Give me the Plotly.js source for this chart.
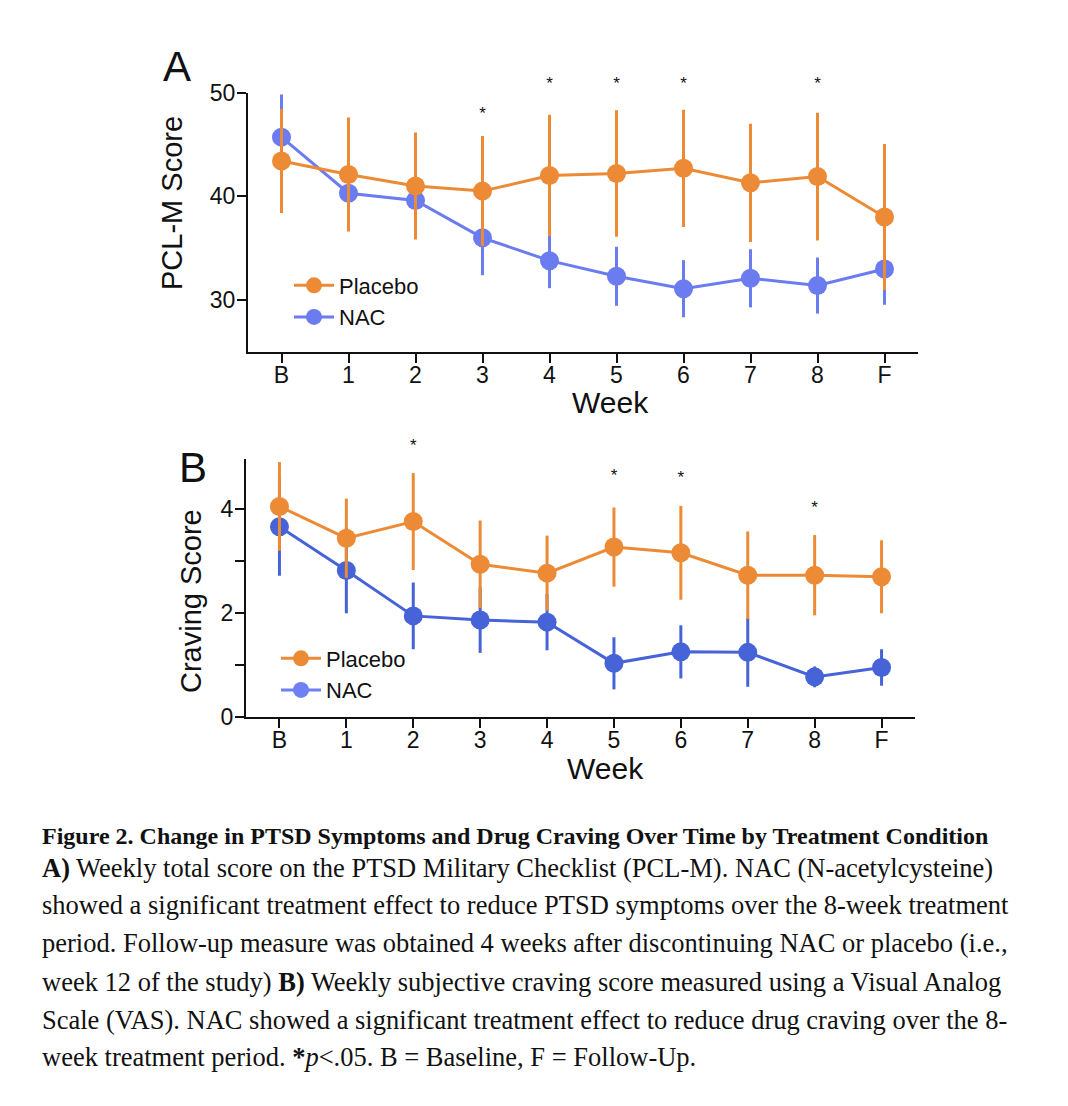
<!DOCTYPE html>
<html>
<head>
<meta charset="utf-8">
<script src="https://cdn.plot.ly/plotly-3.0.1.min.js"></script>
<style>html,body{margin:0;padding:0;background:#fff;}#chart{width:1068px;height:1106px;}</style>
</head>
<body>
<div id="chart"></div>
<script>
// ---- data ----
const weeks = ['B','1','2','3','4','5','6','7','8','F'];

const pclPlacebo    = [43.4, 42.1, 41.0, 40.5, 42.0, 42.2, 42.7, 41.3, 41.9, 38.0];
const pclPlaceboErr = [5.0, 5.5, 5.15, 5.3, 5.85, 6.1, 5.65, 5.7, 6.15, 7.05];
const pclNAC        = [45.7, 40.3, 39.6, 36.0, 33.8, 32.3, 31.1, 32.1, 31.4, 33.0];
const pclNACErr     = [4.1, 3.5, 3.5, 3.6, 2.65, 2.85, 2.75, 2.8, 2.7, 3.45];

const cravPlacebo    = [4.04, 3.43, 3.75, 2.93, 2.76, 3.26, 3.15, 2.72, 2.72, 2.69];
const cravPlaceboErr = [0.85, 0.76, 0.93, 0.84, 0.72, 0.76, 0.90, 0.84, 0.77, 0.70];
const cravNAC        = [3.65, 2.81, 1.94, 1.86, 1.82, 1.03, 1.25, 1.24, 0.77, 0.95];
const cravNACErr     = [0.94, 0.82, 0.64, 0.63, 0.54, 0.50, 0.51, 0.66, 0.20, 0.35];

// significance markers (*p<.05)
const sigWeeksA = ['3','4','5','6','8'];
const sigYA     = [47.85, 50.7, 50.7, 50.7, 50.7];
const sigWeeksB = ['2','5','6','8'];
const sigYB     = [5.19, 4.6, 4.58, 3.99];

const yRangeA = [25, 50];
const yRangeB = [0, 4.95];
const yTicksA = [30, 40, 50];
const yTicksB = [0, 1, 2, 3, 4];
const yTickTextB = ['0', '', '2', '', '4'];

const captionTitle = '<b>Figure 2. Change in PTSD Symptoms and Drug Craving Over Time by Treatment Condition</b>';
const captionLines = [
  '<b>A)</b> Weekly total score on the PTSD Military Checklist (PCL-M). NAC (N-acetylcysteine)',
  'showed a significant treatment effect to reduce PTSD symptoms over the 8-week treatment',
  'period. Follow-up measure was obtained 4 weeks after discontinuing NAC or placebo (i.e.,',
  'week 12 of the study) <b>B)</b> Weekly subjective craving score measured using a Visual Analog',
  'Scale (VAS). NAC showed a significant treatment effect to reduce drug craving over the 8-',
  'week treatment period. <b>*</b><i>p</i>&lt;.05. B = Baseline, F = Follow-Up.'
];

// ---- style ----
const W = 1068, H = 1106;
const px = x => x / W;
const py = y => 1 - y / H;
const ORANGE = '#EC8A35';
const BLUE_A = '#6B7BF0';
const BLUE_B = '#4663D8';
const BLUE_LEG = '#6E80F4';
const FONT = 'Liberation Sans, Arial, Helvetica, sans-serif';
const SERIF = 'Liberation Serif, Times New Roman, serif';

// plot areas (pixels)
const areaA = {x0: 248, x1: 918, top: 92.5, bottom: 352};
const areaB = {x0: 246, x1: 915, top: 459, bottom: 717};
// taller invisible axes sharing the same scale, so the significance stars can sit above the plot
const starTopA = 60, starTopB = 430;
function extendedRange(area, range, top) {
  const ppu = (area.bottom - area.top) / (range[1] - range[0]);
  return [range[0], range[0] + (area.bottom - top) / ppu];
}

function series(x, y, err, color, name, xa, ya, opts) {
  return Object.assign({
    type: 'scatter', mode: 'lines+markers', x: x, y: y, name: name,
    xaxis: xa, yaxis: ya,
    line: {color: color, width: 3},
    marker: {color: color, size: 19},
    error_y: {type: 'data', array: err, visible: true, color: color, thickness: 3, width: 0},
    cliponaxis: false
  }, opts || {});
}
function stars(x, y, xa, ya) {
  return {type: 'scatter', mode: 'text', x: x, y: y, xaxis: xa, yaxis: ya,
    text: x.map(() => '*'), textposition: 'middle center', showlegend: false, cliponaxis: false,
    textfont: {family: FONT, size: 17, color: '#111'}, hoverinfo: 'skip'};
}

const traces = [
  series(weeks, pclNAC, pclNACErr, BLUE_A, 'NAC', 'x', 'y', {legend: 'legend'}),
  series(weeks, pclPlacebo, pclPlaceboErr, ORANGE, 'Placebo', 'x', 'y', {legend: 'legend'}),
  series(weeks, cravNAC, cravNACErr, BLUE_B, 'NAC', 'x2', 'y2', {showlegend: false}),
  series(weeks, cravPlacebo, cravPlaceboErr, ORANGE, 'Placebo', 'x2', 'y2', {legend: 'legend2'}),
  {type: 'scatter', mode: 'lines+markers', x: [null], y: [null], name: 'NAC', xaxis: 'x2', yaxis: 'y2',
   line: {color: BLUE_LEG, width: 3}, marker: {color: BLUE_LEG, size: 19}, legend: 'legend2'},
  stars(sigWeeksA, sigYA, 'x', 'y3'),
  stars(sigWeeksB, sigYB, 'x2', 'y4')
];

const axisBase = {
  showline: true, linecolor: '#111', linewidth: 2, ticks: 'outside', ticklen: 9, tickwidth: 2,
  tickcolor: '#111', showgrid: false, zeroline: false, fixedrange: true,
  tickfont: {family: FONT, size: 23, color: '#111'}
};

const annotations = [];
function label(x, y, text, size, extra) {
  annotations.push(Object.assign({xref: 'paper', yref: 'paper', x: px(x), y: py(y), text: text, showarrow: false,
    xanchor: 'center', yanchor: 'middle', font: {family: FONT, size: size, color: '#111'}}, extra || {}));
}
label(177, 67, 'A', 42);
label(193, 467, 'B', 42);
label(172, 203, 'PCL-M Score', 29, {textangle: -90});
label(610, 402, 'Week', 30);
label(191, 601, 'Craving Score', 29, {textangle: -90});
label(605, 768, 'Week', 30);

const capY = [868, 905, 943, 982, 1020, 1057];
annotations.push({xref: 'paper', yref: 'paper', x: px(40), y: py(836), xanchor: 'left', yanchor: 'middle',
  text: captionTitle, showarrow: false, align: 'left', font: {family: SERIF, size: 24, color: '#111'}});
captionLines.forEach((t, i) => annotations.push({xref: 'paper', yref: 'paper', x: px(40), y: py(capY[i]),
  xanchor: 'left', yanchor: 'middle', text: t, showarrow: false, align: 'left',
  font: {family: SERIF, size: 26.5, color: '#111'}}));

const hiddenAxis = {visible: false, showgrid: false, zeroline: false, fixedrange: true};

const layout = {
  width: W, height: H, autosize: false,
  margin: {l: 0, r: 0, t: 0, b: 0, pad: 0},
  paper_bgcolor: '#fff', plot_bgcolor: 'rgba(0,0,0,0)',
  font: {family: FONT, color: '#111'},
  xaxis: Object.assign({}, axisBase, {type: 'category', domain: [px(areaA.x0), px(areaA.x1)], range: [-0.5, 9.5], anchor: 'y',
    tickvals: weeks, ticktext: weeks, ticklabelstandoff: -8}),
  yaxis: Object.assign({}, axisBase, {domain: [py(areaA.bottom), py(areaA.top)], range: yRangeA, anchor: 'x', tickvals: yTicksA,
    ticklabelstandoff: -3}),
  xaxis2: Object.assign({}, axisBase, {type: 'category', domain: [px(areaB.x0), px(areaB.x1)], range: [-0.5, 9.5], anchor: 'y2',
    tickvals: weeks, ticktext: weeks, ticklabelstandoff: -8}),
  yaxis2: Object.assign({}, axisBase, {domain: [py(areaB.bottom), py(areaB.top)], range: yRangeB, anchor: 'x2',
    tickvals: yTicksB, ticktext: yTickTextB, ticklabelstandoff: -3}),
  yaxis3: Object.assign({}, hiddenAxis, {domain: [py(areaA.bottom), py(starTopA)], range: extendedRange(areaA, yRangeA, starTopA),
    anchor: 'x'}),
  yaxis4: Object.assign({}, hiddenAxis, {domain: [py(areaB.bottom), py(starTopB)], range: extendedRange(areaB, yRangeB, starTopB),
    anchor: 'x2'}),
  legend: {x: px(289), y: py(264.5), xanchor: 'left', yanchor: 'top', traceorder: 'reversed', itemwidth: 40,
    bgcolor: 'rgba(0,0,0,0)', font: {family: FONT, size: 22, color: '#111'}},
  legend2: {x: px(276), y: py(637.5), xanchor: 'left', yanchor: 'top', traceorder: 'normal', itemwidth: 40,
    bgcolor: 'rgba(0,0,0,0)', font: {family: FONT, size: 22, color: '#111'}},
  annotations: annotations
};

Plotly.newPlot('chart', traces, layout, {displayModeBar: false, staticPlot: true});
</script>
</body>
</html>
